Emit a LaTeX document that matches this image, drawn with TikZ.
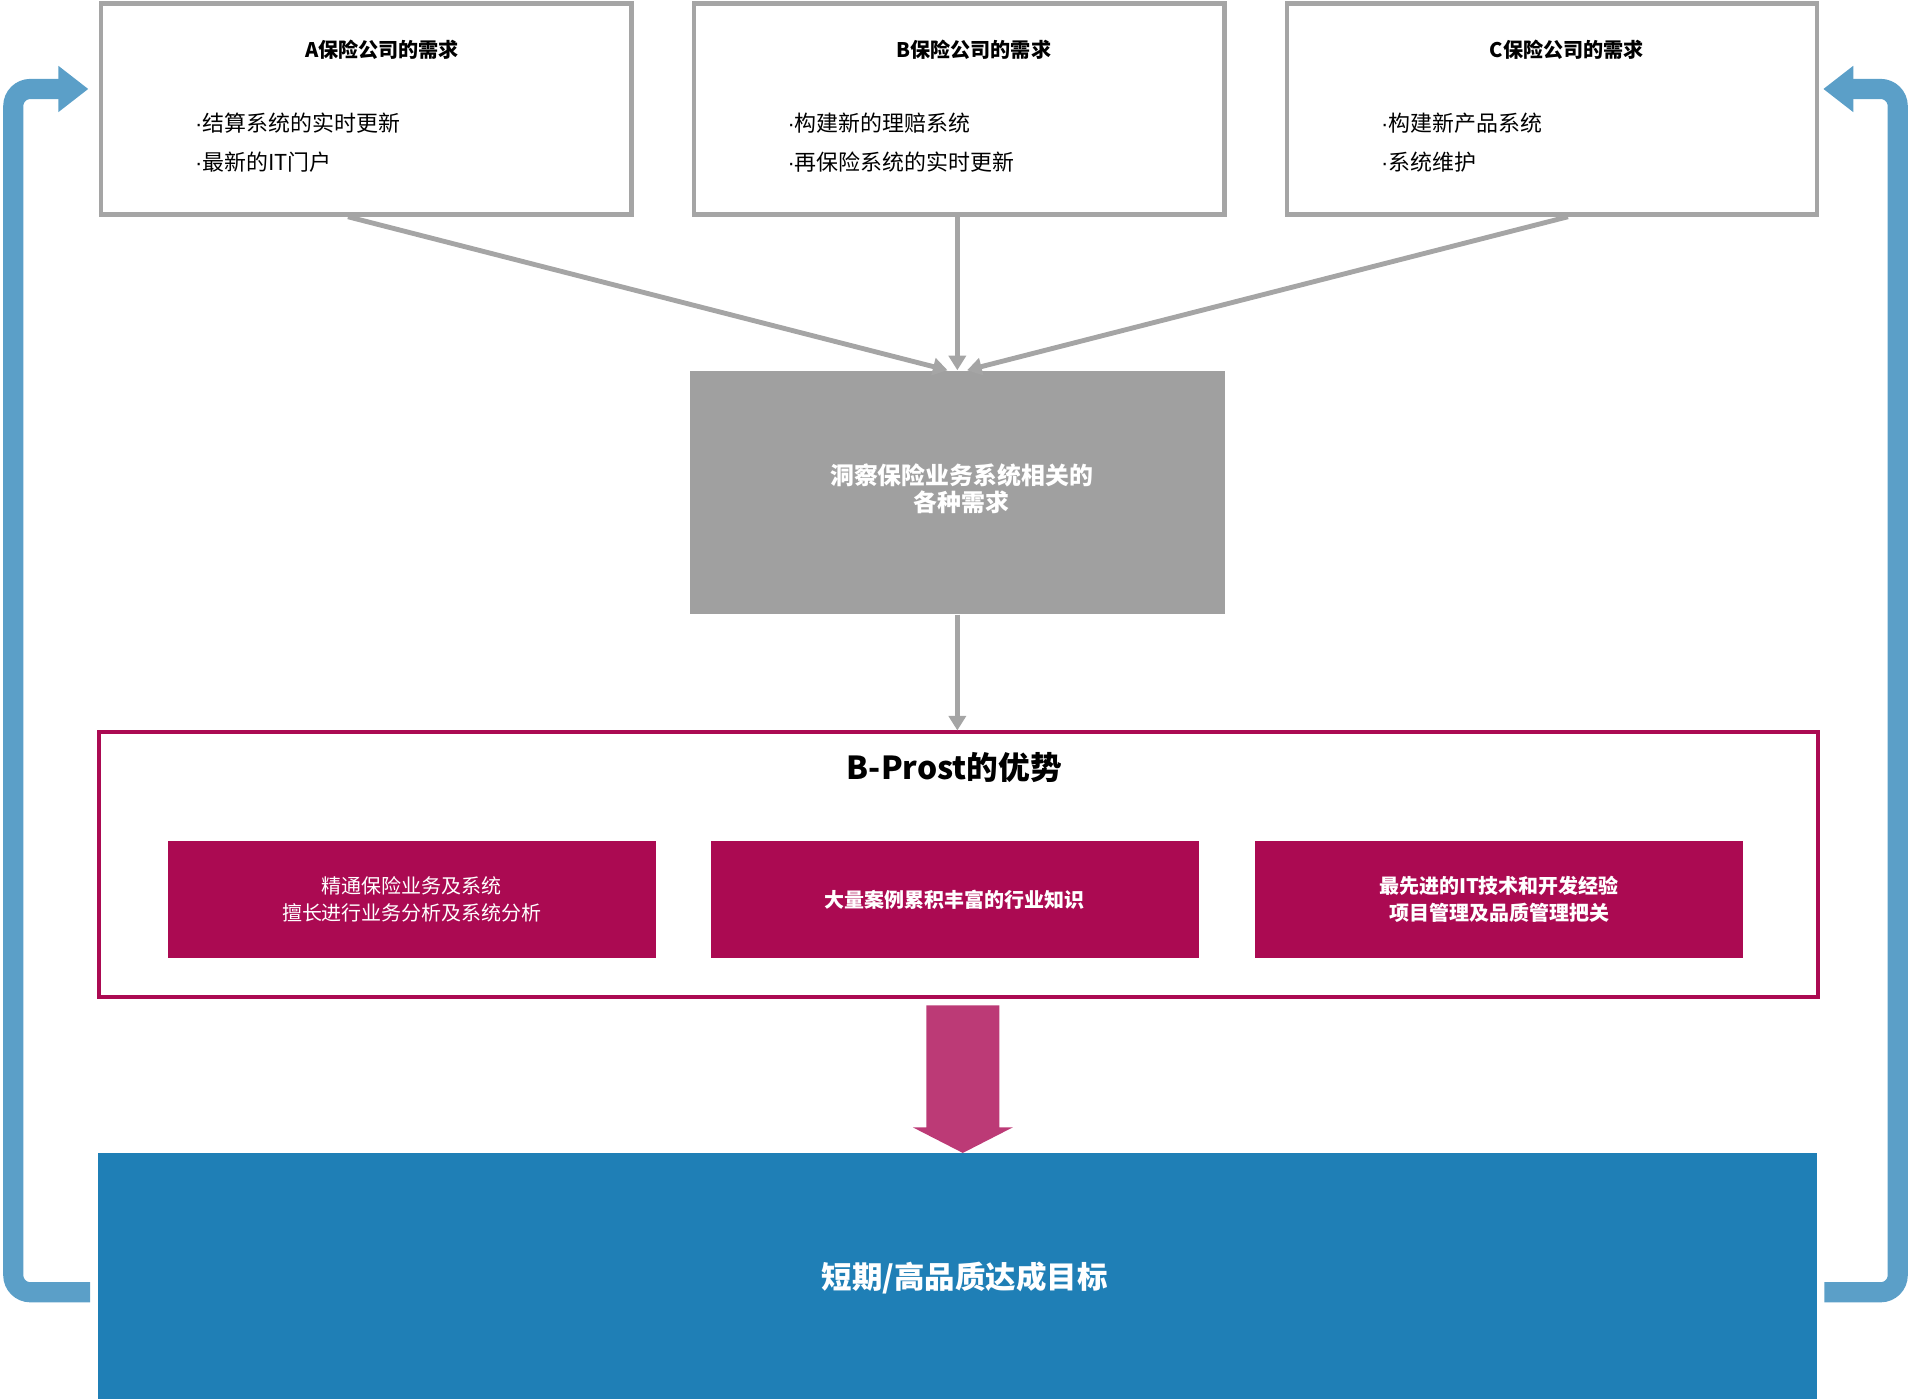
\documentclass[tikz,border=0pt]{standalone}
\usepackage{fontspec}
\setmainfont{Noto Sans CJK SC}
\newfontfamily\dotfont{Liberation Sans}
\usetikzlibrary{arrows.meta}
\definecolor{linegray}{HTML}{A5A5A5}
\definecolor{needgray}{HTML}{A0A0A0}
\definecolor{advred}{HTML}{AB0A52}
\definecolor{pinkarrow}{HTML}{BC3A76}
\definecolor{goalblue}{HTML}{1F7FB6}
\definecolor{loopblue}{HTML}{5B9FC8}
\newcommand{\itemdot}{{\dotfont ·}}
\tikzset{
	reqbox/.style={draw=linegray, line width=3.7pt, minimum width=435pt, minimum height=173pt, inner sep=0pt},
	reqtitle/.style={font=\bfseries\fontsize{16.5}{20}\selectfont, inner sep=0pt},
	reqlist/.style={font=\fontsize{18}{32}\selectfont, align=left, anchor=west, inner sep=0pt},
	link/.style={draw=linegray, line width=4pt, -{Triangle[length=12pt,width=14pt]}},
	advbox/.style={fill=advred, minimum width=400pt, minimum height=96pt, inner sep=0pt, text=white, align=center},
	loop/.style={draw=loopblue, line width=16.5pt, rounded corners=14pt, -{Triangle[length=24.6pt,width=36.3pt]}}
}
\begin{document}
\begin{tikzpicture}[x=1pt,y=-1pt]
				\useasboundingbox (0,0) rectangle (1568,1148);
				
				% the three insurers
				\node[reqbox] (boxA) at (300.5,89.5) {};
				\node[reqbox] (boxB) at (787,89.5) {};
				\node[reqbox] (boxC) at (1273.5,89.5) {};
				\node[reqtitle] (titleA) at (313.5,41) {A保险公司的需求};
				\node[reqtitle] (titleB) at (799,41) {B保险公司的需求};
				\node[reqtitle] (titleC) at (1285.5,41) {C保险公司的需求};
				\node[reqlist] (listA) at (160,117) {\itemdot 结算系统的实时更新\\\itemdot 最新的IT门户};
				\node[reqlist] (listB) at (646,117) {\itemdot 构建新的理赔系统\\\itemdot 再保险系统的实时更新};
				\node[reqlist] (listC) at (1133,117) {\itemdot 构建新产品系统\\\itemdot 系统维护};
				
				\node[fill=needgray, minimum width=439pt, minimum height=200pt, inner sep=0pt] (need) at (785.5,404) {};
				\node[text=white, align=center, inner sep=0pt, font=\bfseries\fontsize{19.6}{22}\selectfont] (needtext) at (789,401) {洞察保险业务系统相关的\\各种需求};
				
				\draw[link] ([xshift=-15pt]boxA.south) -- ([xshift=-8pt]need.north);
				\draw[link] ([xshift=13pt]boxC.south) -- ([xshift=8pt]need.north);
				\draw[link] (boxB.south -| need.north) -- (need.north);
				
				% advantages
				\node[draw=advred, line width=3.3pt, minimum width=1411pt, minimum height=217pt, inner sep=0pt] (adv) at (786.5,709.5) {};
				\draw[link] (need.south) -- (adv.north -| need.south);
				\node[font=\bfseries\fontsize{26}{30}\selectfont, inner sep=0pt] (advtitle) at (783,630) {B-Prost的优势};
				\node[advbox, font=\fontsize{16.4}{22}\selectfont] (adv1) at (338,738) {精通保险业务及系统\\擅长进行业务分析及系统分析};
				\node[advbox, font=\bfseries\fontsize{16.4}{22}\selectfont] (adv2) at (783.5,738) {大量案例累积丰富的行业知识};
				\node[advbox, font=\bfseries\fontsize{16.4}{22}\selectfont] (adv3) at (1230,738) {最先进的IT技术和开发经验\\项目管理及品质管理把关};
				
				\draw[fill=pinkarrow, draw=none] (760,825) -- (820,825) -- (820,925) -- (831,925) -- (790,946) -- (749,925) -- (760,925) -- cycle;
				
				% goal
				\node[fill=goalblue, minimum width=1411pt, minimum height=202pt, inner sep=0pt] (goal) at (785.5,1047) {};
				\node[text=white, inner sep=0pt, font=\bfseries\fontsize{25}{30}\selectfont] (goaltext) at (791.5,1049) {短期/高品质达成目标};
				
				\draw[loop] (74,1060.3) -- (10.9,1060.3) -- (10.9,73) -- (72.5,73);
				\draw[loop] (1497,1060.3) -- (1557.1,1060.3) -- (1557.1,73) -- (1496,73);
			\end{tikzpicture}
\end{document}
